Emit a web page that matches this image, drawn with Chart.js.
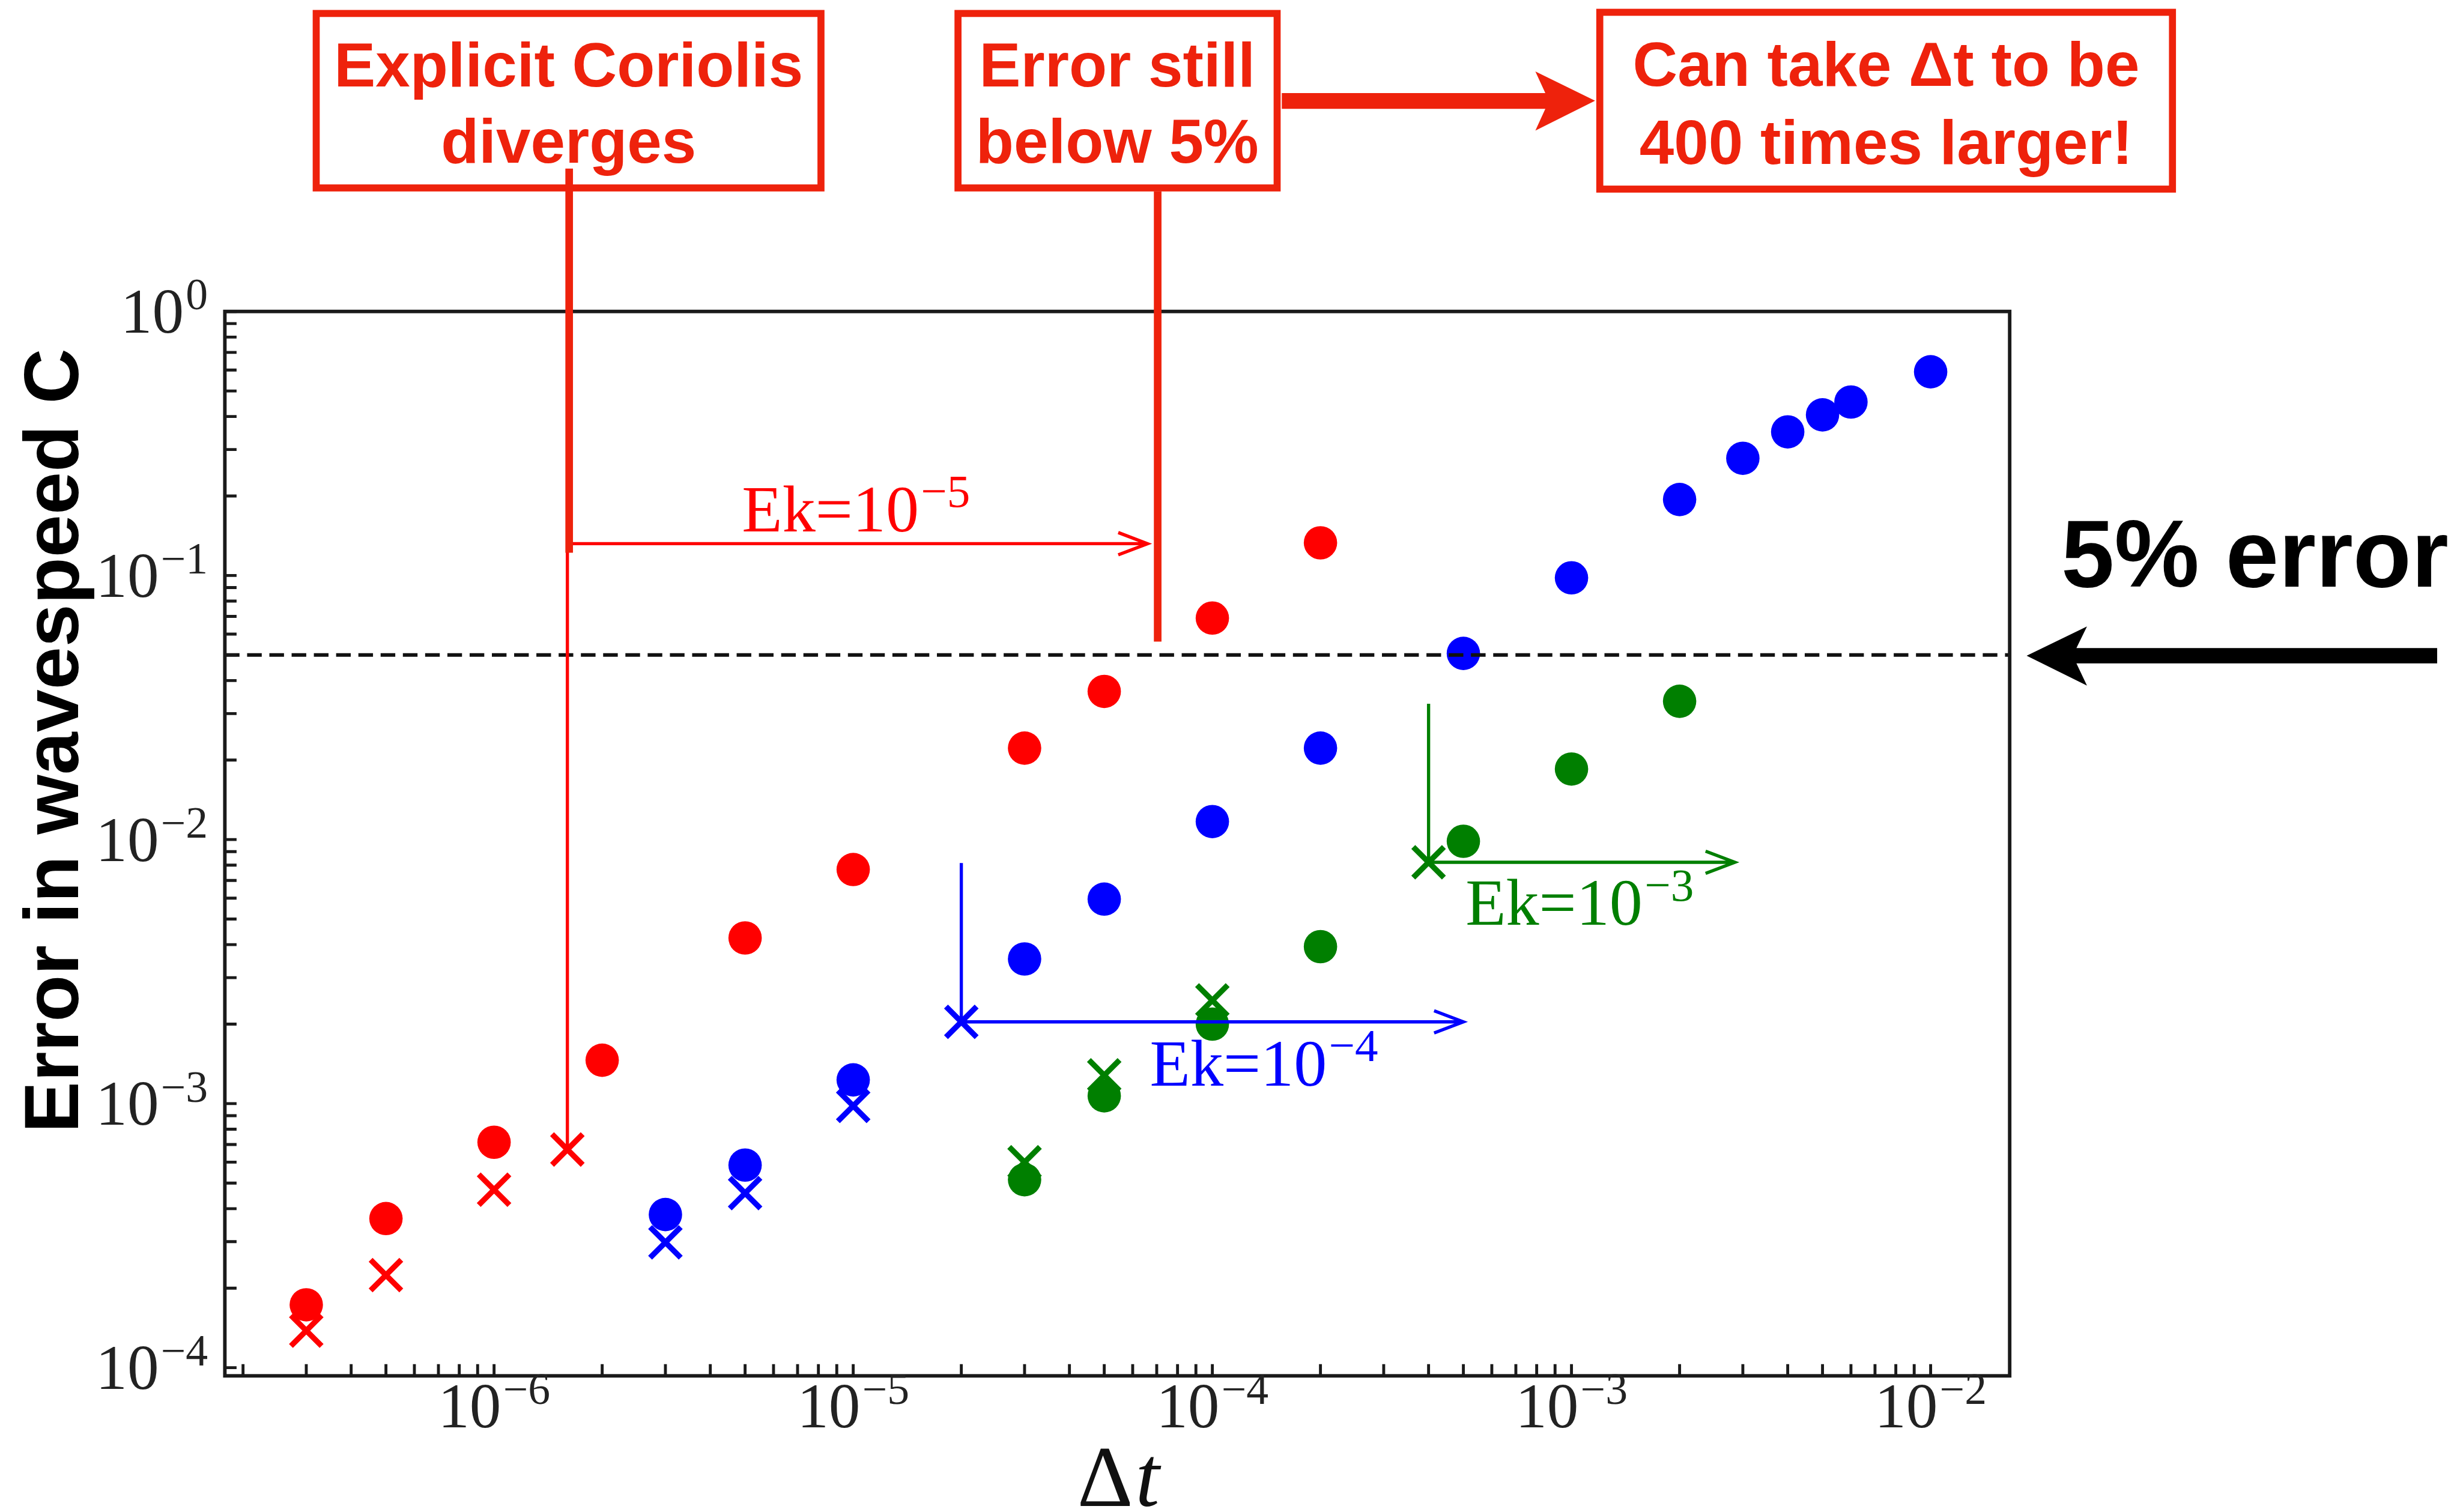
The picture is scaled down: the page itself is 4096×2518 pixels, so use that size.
<!DOCTYPE html>
<html>
<head>
<meta charset="utf-8">
<script src="https://cdn.jsdelivr.net/npm/chart.js@4.4.1/dist/chart.umd.min.js"></script>
<style>
  html, body { margin: 0; padding: 0; background: #fff; overflow: hidden; }
  canvas { display: block; }
</style>
</head>
<body>
<canvas id="errChart" width="4096" height="2518"></canvas>
<script>
/*
 * Values (time step vs. error in wavespeed C)
 */
const dtRedDots = [3e-7, 5e-7, 1e-6, 2e-6, 5e-6, 1e-5, 3e-5, 5e-5, 1e-4, 2e-4];
const errRedDots = [1.73e-4, 3.67e-4, 7.14e-4, 1.46e-3, 4.24e-3, 7.7e-3, 2.22e-2, 3.64e-2, 6.9e-2, 0.133];
const dtRedCross = [3e-7, 5e-7, 1e-6, 1.6e-6];
const errRedCross = [1.38e-4, 2.24e-4, 4.72e-4, 6.7e-4];

const dtBlueDots = [3e-6, 5e-6, 1e-5, 3e-5, 5e-5, 1e-4, 2e-4, 5e-4, 1e-3, 2e-3, 3e-3, 4e-3, 5e-3, 6e-3, 1e-2];
const errBlueDots = [3.8e-4, 5.85e-4, 1.23e-3, 3.53e-3, 5.95e-3, 1.17e-2, 2.22e-2, 5.07e-2, 9.8e-2, 0.194, 0.278, 0.35, 0.406, 0.454, 0.591];
const dtBlueCross = [3e-6, 5e-6, 1e-5, 2e-5];
const errBlueCross = [2.98e-4, 4.58e-4, 9.8e-4, 2.04e-3];

const dtGreenDots = [3e-5, 5e-5, 1e-4, 2e-4, 5e-4, 1e-3, 2e-3];
const errGreenDots = [5.15e-4, 1.07e-3, 2.0e-3, 3.93e-3, 9.85e-3, 1.85e-2, 3.34e-2];
const dtGreenCross = [3e-5, 5e-5, 1e-4, 4e-4];
const errGreenCross = [6.0e-4, 1.28e-3, 2.46e-3, 8.2e-3];

const threshold = 0.05;   // 5% error line

// axis ranges and tick labels (powers of ten)
const xMin = 1.78e-7, xMax = 1.66e-2;
const yMin = 9.31e-5, yMax = 1;
const xTickExps = [-6, -5, -4, -3, -2];
const yTickExps = [0, -1, -2, -3, -4];

// Ek annotations: vertical line at startX from topY to bottomY, arrow at arrowY to endX
const ekExps = [-5, -4, -3];
const ekStartX = [1.6e-6, 2e-5, 4e-4];
const ekTopY = [0.132, 8.15e-3, 0.0327];
const ekBottomY = [6.7e-4, 2.04e-3, 8.2e-3];
const ekArrowY = [0.132, 2.04e-3, 8.2e-3];
const ekEndX = [6.6e-5, 5e-4, 2.85e-3];
const ekLabelX = [4.9e-6, 6.7e-5, 5.07e-4];
const ekLabelY = [0.147, 1.17e-3, 4.75e-3];

const RED = '#ff0000', BLUE = '#0000ff', GREEN = '#007f00';
const SLIDE_RED = '#ee220c';
const ekColors = [RED, BLUE, GREEN];

const K = 0.975;                 // reference pixels -> page pixels
const P = v => v * K;

function pts(xs, ys) {
    return xs.map((x, i) => ({ x: x, y: ys[i] }));
}

// "10^-n" style label, y is the baseline of the mantissa
function powLabel(ctx, x, y, mant, exp, size, color, align) {
    const supSize = size * 0.7;
    const sup = exp === 0 ? '0' : '\u2212' + Math.abs(exp);
    ctx.font = size + 'px "Liberation Serif"';
    const w1 = ctx.measureText(mant).width;
    ctx.font = supSize + 'px "Liberation Serif"';
    const w2 = ctx.measureText(sup).width;
    const gap = size * 0.03;
    const total = w1 + gap + w2;
    const x0 = align === 'right' ? x - total : (align === 'center' ? x - total / 2 : x);
    ctx.fillStyle = color;
    ctx.textAlign = 'left';
    ctx.textBaseline = 'alphabetic';
    ctx.font = size + 'px "Liberation Serif"';
    ctx.fillText(mant, x0, y);
    ctx.font = supSize + 'px "Liberation Serif"';
    ctx.fillText(sup, x0 + w1 + gap, y - size * 0.37);
}

const decor = {
    id: 'decor',
    beforeDraw(chart) {
        const c = chart.ctx;
        c.save();
        c.fillStyle = '#fff';
        c.fillRect(0, 0, chart.width, chart.height);
        c.restore();
    },
    afterDatasetsDraw(chart) {
        const ctx = chart.ctx, xs = chart.scales.x, ys = chart.scales.y, a = chart.chartArea;
        ctx.save();

        // 5% dashed line
        const yt = ys.getPixelForValue(threshold);
        ctx.strokeStyle = '#111';
        ctx.lineWidth = P(6);
        ctx.setLineDash([P(25), P(13)]);
        ctx.beginPath();
        ctx.moveTo(a.left, yt);
        ctx.lineTo(a.right, yt);
        ctx.stroke();
        ctx.setLineDash([]);

        // Ek annotations
        ctx.lineJoin = 'miter';
        for (let i = 0; i < ekExps.length; i++) {
            const x0 = xs.getPixelForValue(ekStartX[i]);
            const x1 = xs.getPixelForValue(ekEndX[i]);
            const yTop = ys.getPixelForValue(ekTopY[i]);
            const yBot = ys.getPixelForValue(ekBottomY[i]);
            const yh = ys.getPixelForValue(ekArrowY[i]);
            ctx.strokeStyle = ekColors[i];
            ctx.lineWidth = P(5.5);
            ctx.beginPath();
            ctx.moveTo(x0, yTop);
            ctx.lineTo(x0, yBot);
            ctx.moveTo(x0, yh);
            ctx.lineTo(x1, yh);
            ctx.moveTo(x1 - P(50), yh - P(19));
            ctx.lineTo(x1, yh);
            ctx.lineTo(x1 - P(50), yh + P(19));
            ctx.stroke();
            powLabel(ctx, xs.getPixelForValue(ekLabelX[i]), ys.getPixelForValue(ekLabelY[i]),
                'Ek=10', ekExps[i], P(113), ekColors[i], 'left');
        }

        // frame
        ctx.strokeStyle = '#1a1a1a';
        ctx.lineWidth = P(6);
        ctx.strokeRect(a.left, a.top, a.right - a.left, a.bottom - a.top);

        // inward ticks, left and bottom only
        ctx.lineWidth = P(5);
        ctx.beginPath();
        for (let e = -8; e <= 0; e++) {
            for (let m = 1; m <= 9; m++) {
                const v = m * Math.pow(10, e);
                if (v >= xMin && v <= xMax) {
                    const px = xs.getPixelForValue(v);
                    ctx.moveTo(px, a.bottom);
                    ctx.lineTo(px, a.bottom - P(20));
                }
                if (v >= yMin && v <= yMax * 1.0001) {
                    const py = ys.getPixelForValue(v);
                    ctx.moveTo(a.left, py);
                    ctx.lineTo(a.left + P(20), py);
                }
            }
        }
        ctx.stroke();

        // tick labels
        const tickSize = P(108);
        xTickExps.forEach(e => {
            powLabel(ctx, xs.getPixelForValue(Math.pow(10, e)), a.bottom + P(88), '10', e, tickSize, '#222', 'center');
        });
        yTickExps.forEach(e => {
            powLabel(ctx, P(355), ys.getPixelForValue(Math.pow(10, e)) + tickSize * 0.338, '10', e, tickSize, '#222', 'right');
        });

        // x title: Delta t
        const cx = (a.left + a.right) / 2;
        ctx.fillStyle = '#111';
        ctx.font = P(148) + 'px "Liberation Serif"';
        const wD = ctx.measureText('\u0394').width;
        ctx.font = 'italic ' + P(148) + 'px "Liberation Serif"';
        const wT = ctx.measureText('t').width;
        const sx = cx - (wD + wT) / 2;
        ctx.font = P(148) + 'px "Liberation Serif"';
        ctx.fillText('\u0394', sx, P(2572));
        ctx.font = 'italic ' + P(148) + 'px "Liberation Serif"';
        ctx.fillText('t', sx + wD + P(4), P(2572));

        ctx.restore();
    },
    afterDraw(chart) {
        const ctx = chart.ctx;
        ctx.save();

        // y title
        ctx.save();
        ctx.translate(P(133), P(1265));
        ctx.rotate(-Math.PI / 2);
        ctx.font = 'bold ' + P(131) + 'px "Liberation Sans"';
        ctx.textAlign = 'center';
        ctx.textBaseline = 'alphabetic';
        ctx.fillStyle = '#000';
        ctx.fillText('Error in wavespeed C', 0, 0);
        ctx.restore();

        // red call-out boxes
        const boxes = [
            { x: 540, y: 23, w: 862, h: 298, cx: 971, lines: ['Explicit Coriolis', 'diverges'], base: [148, 278] },
            { x: 1636, y: 23, w: 545, h: 298, cx: 1908, lines: ['Error still', 'below 5%'], base: [148, 278] },
            { x: 2732, y: 21, w: 978, h: 302, cx: 3221, lines: ['Can take \u0394t to be', '400 times larger!'], base: [147, 280] }
        ];
        ctx.strokeStyle = SLIDE_RED;
        ctx.fillStyle = SLIDE_RED;
        ctx.lineWidth = P(12);
        ctx.font = 'bold ' + P(106) + 'px "Liberation Sans"';
        ctx.textAlign = 'center';
        ctx.textBaseline = 'alphabetic';
        boxes.forEach(b => {
            ctx.strokeRect(P(b.x), P(b.y), P(b.w), P(b.h));
            b.lines.forEach((t, i) => ctx.fillText(t, P(b.cx), P(b.base[i])));
        });

        // leader lines from the boxes
        ctx.lineWidth = P(13);
        ctx.beginPath();
        ctx.moveTo(P(972), P(288));
        ctx.lineTo(P(972), P(944));
        ctx.moveTo(P(1977), P(327));
        ctx.lineTo(P(1977), P(1096));
        ctx.stroke();

        // red arrow between boxes
        ctx.beginPath();
        ctx.moveTo(P(2189), P(159));
        ctx.lineTo(P(2639), P(159));
        ctx.lineTo(P(2622), P(122));
        ctx.lineTo(P(2724), P(172));
        ctx.lineTo(P(2622), P(223));
        ctx.lineTo(P(2639), P(186));
        ctx.lineTo(P(2189), P(186));
        ctx.closePath();
        ctx.fill();

        // 5% error note and black arrow
        ctx.fillStyle = '#000';
        ctx.textAlign = 'left';
        ctx.font = 'bold ' + P(163) + 'px "Liberation Sans"';
        ctx.fillText('5% error', P(3520), P(1002));
        ctx.beginPath();
        ctx.moveTo(P(4162), P(1107));
        ctx.lineTo(P(3546), P(1107));
        ctx.lineTo(P(3564), P(1070));
        ctx.lineTo(P(3461), P(1120));
        ctx.lineTo(P(3564), P(1171));
        ctx.lineTo(P(3546), P(1133));
        ctx.lineTo(P(4162), P(1133));
        ctx.closePath();
        ctx.fill();

        ctx.restore();
    }
};

const dotR = P(28.5);
const crossR = P(37);
const crossW = P(9.5);

function dots(label, xs, ys, color) {
    return {
        label: label,
        data: pts(xs, ys),
        pointStyle: 'circle',
        pointRadius: dotR,
        pointBackgroundColor: color,
        pointBorderWidth: 0,
        pointBorderColor: color
    };
}

function crosses(label, xs, ys, color) {
    return {
        label: label,
        data: pts(xs, ys),
        pointStyle: 'crossRot',
        pointRadius: crossR,
        pointBorderColor: color,
        pointBorderWidth: crossW
    };
}

const ctx = document.getElementById('errChart').getContext('2d');

const errChart = new Chart(ctx, {
    type: 'scatter',
    data: {
        datasets: [
            dots('Ek=1e-3', dtGreenDots, errGreenDots, GREEN),
            dots('Ek=1e-4', dtBlueDots, errBlueDots, BLUE),
            dots('Ek=1e-5', dtRedDots, errRedDots, RED),
            crosses('Ek=1e-3 explicit', dtGreenCross, errGreenCross, GREEN),
            crosses('Ek=1e-4 explicit', dtBlueCross, errBlueCross, BLUE),
            crosses('Ek=1e-5 explicit', dtRedCross, errRedCross, RED)
        ]
    },
    options: {
        responsive: false,
        maintainAspectRatio: false,
        devicePixelRatio: 1,
        animation: false,
        events: [],
        layout: {
            padding: {
                left: P(384),
                right: 4096 - P(3432),
                top: P(532),
                bottom: 2518 - P(2350)
            }
        },
        plugins: {
            legend: { display: false },
            tooltip: { enabled: false }
        },
        scales: {
            x: {
                type: 'logarithmic',
                min: xMin,
                max: xMax,
                display: false
            },
            y: {
                type: 'logarithmic',
                min: yMin,
                max: yMax,
                display: false
            }
        }
    },
    plugins: [decor]
});
</script>
</body>
</html>
